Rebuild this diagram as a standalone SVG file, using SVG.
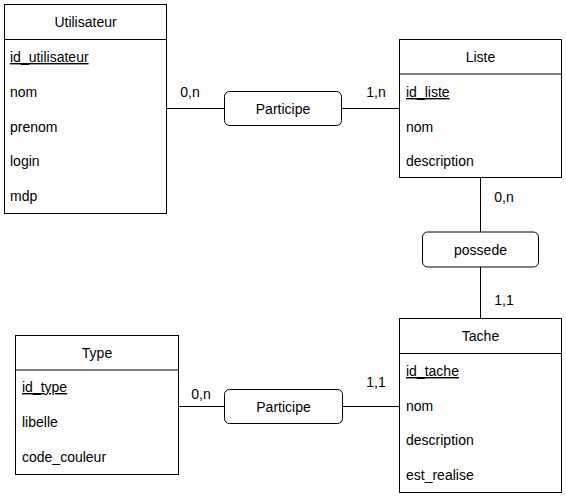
<svg xmlns="http://www.w3.org/2000/svg" width="566" height="496" viewBox="0 0 566 496">
<style>
.box{fill:#fff;stroke:#000;stroke-width:1}
.rel{fill:#fff;stroke:#000;stroke-width:1}
.ln{stroke:#000;stroke-width:1;fill:none}
text{font-family:"Liberation Sans",Arial,sans-serif;font-size:14px;fill:#000}
.c{text-anchor:middle}
.u{text-decoration:underline}
</style>
<rect width="566" height="496" fill="#fff"/>
<g id="connectors">
<line class="ln" x1="166.5" y1="108.5" x2="224.5" y2="108.5"/>
<line class="ln" x1="341.5" y1="108.5" x2="399.5" y2="108.5"/>
<line class="ln" x1="480.5" y1="178" x2="480.5" y2="232"/>
<line class="ln" x1="480.5" y1="267" x2="480.5" y2="318.5"/>
<line class="ln" x1="178.5" y1="406.5" x2="224.5" y2="406.5"/>
<line class="ln" x1="342.5" y1="406.5" x2="399.5" y2="406.5"/>
<text x="190" y="97" class="c">0,n</text>
<text x="376" y="97" class="c">1,n</text>
<text x="504" y="202" class="c">0,n</text>
<text x="504" y="305" class="c">1,1</text>
<text x="201" y="399" class="c">0,n</text>
<text x="376" y="387" class="c">1,1</text>
</g>
<g id="utilisateur">
<rect class="box" x="4.5" y="4.5" width="162" height="209"/>
<line class="ln" x1="4.5" y1="39.5" x2="166.5" y2="39.5"/>
<text x="85.5" y="27" class="c">Utilisateur</text>
<text x="10" y="62" class="u">id_utilisateur</text>
<text x="10" y="97">nom</text>
<text x="10" y="132">prenom</text>
<text x="10" y="166">login</text>
<text x="10" y="201">mdp</text>
</g>
<g id="liste">
<rect class="box" x="399.5" y="39.5" width="162" height="138"/>
<line class="ln" x1="399.5" y1="74" x2="561.5" y2="74"/>
<text x="480.5" y="62" class="c">Liste</text>
<text x="406" y="97" class="u">id_liste</text>
<text x="406" y="132">nom</text>
<text x="406" y="166">description</text>
</g>
<g id="tache">
<rect class="box" x="399.5" y="318.5" width="162" height="174"/>
<line class="ln" x1="399.5" y1="353.5" x2="561.5" y2="353.5"/>
<text x="480.5" y="341" class="c">Tache</text>
<text x="406" y="376" class="u">id_tache</text>
<text x="406" y="411">nom</text>
<text x="406" y="445">description</text>
<text x="406" y="480">est_realise</text>
</g>
<g id="type">
<rect class="box" x="15.5" y="335.5" width="163" height="139"/>
<line class="ln" x1="15.5" y1="370" x2="178.5" y2="370"/>
<text x="97" y="358" class="c">Type</text>
<text x="22" y="392" class="u">id_type</text>
<text x="22" y="427">libelle</text>
<text x="22" y="462">code_couleur</text>
</g>
<g id="participe1">
<rect class="rel" x="224.5" y="91.5" width="117" height="34" rx="5"/>
<text x="283" y="114" class="c">Participe</text>
</g>
<g id="possede">
<rect class="rel" x="422.5" y="232" width="116" height="35" rx="5"/>
<text x="480.5" y="255" class="c">possede</text>
</g>
<g id="participe2">
<rect class="rel" x="224.5" y="389.5" width="118" height="34" rx="5"/>
<text x="283.5" y="412" class="c">Participe</text>
</g>
</svg>
